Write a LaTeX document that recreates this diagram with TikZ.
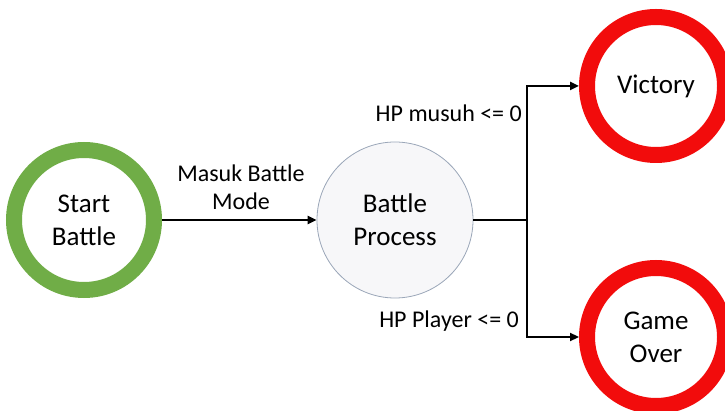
\documentclass[tikz,border=0pt]{standalone}
\usepackage{fontspec}
\setmainfont{Carlito}
\usetikzlibrary{arrows.meta}
\definecolor{ringgreen}{HTML}{70AD47}
\definecolor{ringred}{HTML}{F20C0C}
\definecolor{procfill}{HTML}{F7F7F9}
\definecolor{procedge}{HTML}{9AA6B8}
\tikzset{
  ring/.style={circle, line width=16pt, fill=white, minimum size=140pt, inner sep=0pt,
    align=center, font=\fontsize{27}{33}\selectfont},
  startring/.style={ring, draw=ringgreen},
  endring/.style={ring, draw=ringred, minimum size=138pt},
  procnode/.style={circle, draw=procedge, line width=0.8pt, fill=procfill, minimum size=156pt,
    inner sep=0pt, align=center, font=\fontsize{27}{33}\selectfont},
  lbl/.style={align=center, font=\fontsize{24}{28}\selectfont, inner sep=0pt},
  flow/.style={line width=2.5pt, -{Triangle[length=9pt,width=8pt]}},
  plain/.style={line width=2.5pt}
}
\begin{document}
\begin{tikzpicture}[x=1pt,y=-1pt]
  \useasboundingbox (0,0) rectangle (725,411);
  \node[startring] (start) at (84,220) {Start\\Battle};
  \node[procnode] (proc) at (395,220) {Battle\\Process};
  \node[endring] (vic) at (656,86) {Victory};
  \node[endring] (over) at (656,337) {Game\\Over};
  \coordinate (j) at (527,220);
  \draw[flow] (start.east) -- (proc.west);
  \draw[plain] (proc.east) -- (j);
  \draw[flow] (j) |- (vic.west);
  \draw[flow] (j) |- (over.west);
  \node[lbl] (mbm) at (241,187) {Masuk Battle\\Mode};
  \node[lbl, anchor=east] (hpm) at (522,113) {HP musuh <= 0};
  \node[lbl, anchor=east] (hpp) at (519,321) {HP Player <= 0};
\end{tikzpicture}
\end{document}
